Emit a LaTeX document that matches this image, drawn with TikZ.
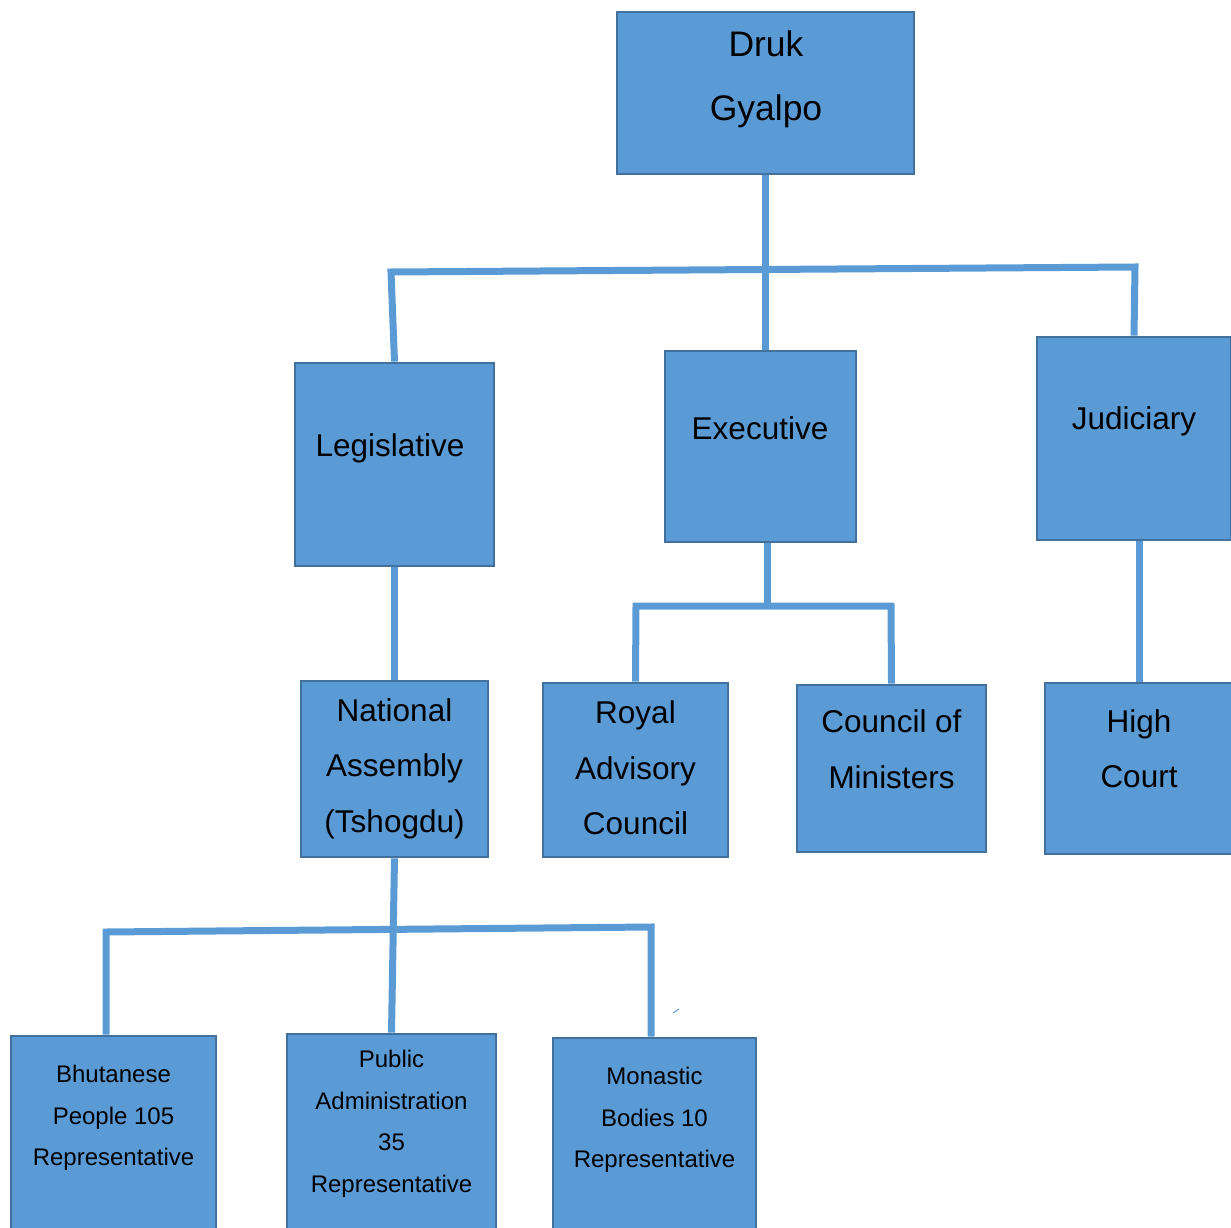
\documentclass[tikz,border=0pt]{standalone}
\usepackage{fontspec}
\setmainfont{Liberation Sans}
\usepackage{xcolor}
\definecolor{boxcolor}{RGB}{91,155,213}
\definecolor{edgecolor}{RGB}{65,113,156}

\begin{document}
\begin{tikzpicture}[x=1pt, y=-1pt]
    % Define styles
    \tikzstyle{office} = [rectangle, draw=edgecolor, fill=boxcolor, line width=2.8pt, inner sep=0pt]
    \tikzstyle{bigtext} = [align=center, inner sep=0pt, font=\fontsize{35.5}{64}\selectfont]
    \tikzstyle{midtext} = [align=center, inner sep=0pt, font=\fontsize{31.5}{55.5}\selectfont]
    \tikzstyle{smalltext} = [align=center, inner sep=0pt, font=\fontsize{24}{41.5}\selectfont]
    \tikzstyle{link} = [boxcolor, line width=7pt, line join=miter]

    \useasboundingbox (0,0) rectangle (1231,1228);
    \clip (0,0) rectangle (1231,1228);

    % Boxes
    \node [office, minimum width=297, minimum height=162] (druk) at (765.5,93) {};
    \node [office, minimum width=199, minimum height=203] (leg) at (394.5,464.5) {};
    \node [office, minimum width=191, minimum height=191] (exe) at (760.5,446.5) {};
    \node [office, minimum width=194, minimum height=203] (jud) at (1134,438.5) {};
    \node [office, minimum width=187, minimum height=176] (nat) at (394.5,769) {};
    \node [office, minimum width=185, minimum height=174] (rac) at (635.5,770) {};
    \node [office, minimum width=189, minimum height=167] (com) at (891.5,768.5) {};
    \node [office, minimum width=188, minimum height=171] (hc) at (1139,768.5) {};
    \node [office, minimum width=205, minimum height=205] (bhu) at (113.5,1138.5) {};
    \node [office, minimum width=209, minimum height=209] (pub) at (391.5,1138.5) {};
    \node [office, minimum width=203, minimum height=201] (mon) at (654.5,1138.5) {};

    % Texts
    \node [bigtext] (drukT) at (766,79) {Druk\\Gyalpo};
    \node [midtext] (legT) at (390,448) {Legislative};
    \node [midtext] (exeT) at (760,428) {Executive};
    \node [midtext] (judT) at (1134,421) {Judiciary};
    \node [midtext] (natT) at (394.5,768.5) {National\\Assembly\\(Tshogdu)};
    \node [midtext] (racT) at (635.5,768) {Royal\\Advisory\\Council};
    \node [midtext] (comT) at (891.5,749) {Council of\\Ministers};
    \node [midtext] (hcT) at (1139,748.5) {High\\Court};
    \node [smalltext] (bhuT) at (113.5,1118) {Bhutanese\\People 105\\Representative};
    \node [smalltext] (pubT) at (391.5,1124) {Public\\Administration\\35\\Representative};
    \node [smalltext] (monT) at (654.5,1120) {Monastic\\Bodies 10\\Representative};

    % Joints
    \coordinate (topL) at (391,272);
    \coordinate (topR) at (1135,267);
    \coordinate (exeJ) at (767,606);
    \coordinate (exeL) at (636,606);
    \coordinate (exeR) at (891,606);
    \coordinate (botL) at (106,932);
    \coordinate (botR) at (651,927);

    % Connectors
    \draw [link] (druk.south) -- (druk.south |- exe.north);
    \draw [link] (leg.north) -- (topL) -- (topR) -- (jud.north);
    \draw [link] (leg.south) -- (nat.north);
    \draw [link] (exe.south -| exeJ) -- (exeJ);
    \draw [link] (rac.north) -- (exeL) -- (exeR) -- (com.north);
    \draw [link] (jud.south -| hc.north) -- (hc.north);
    \draw [link] (nat.south) -- (pub.north);
    \draw [link] (botL |- bhu.north) -- (botL) -- (botR) -- (botR |- mon.north);
    \draw [boxcolor, line width=1pt] (673,1013) -- (679,1009);
\end{tikzpicture}
\end{document}
